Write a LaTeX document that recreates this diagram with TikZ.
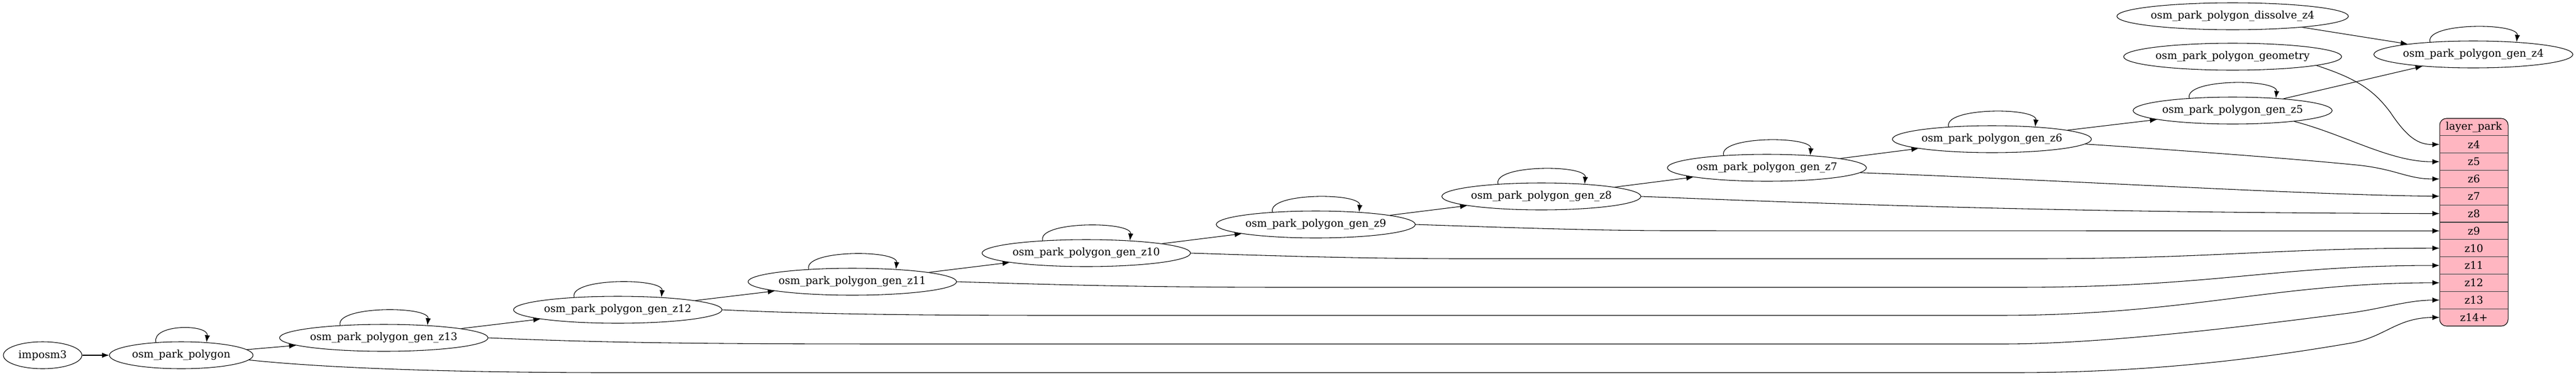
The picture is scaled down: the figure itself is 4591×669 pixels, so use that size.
\documentclass[tikz,border=0pt]{standalone}
\usepackage{fontspec}
\setmainfont{DejaVu Serif}
\usetikzlibrary{arrows.meta,shapes.geometric}
\definecolor{parkpink}{HTML}{FFB6C1}

\begin{document}
\begin{tikzpicture}[x=0.75pt, y=-0.75pt, font=\fontsize{14}{17}\selectfont,
		job/.style={draw, ellipse, line width=0.8pt, inner sep=0pt, minimum height=36pt},
		link/.style={line width=0.8pt, -{Latex[length=9.5pt, width=7pt]}},
		cell/.style={inner sep=0pt, minimum width=91.5pt, minimum height=23pt}]
		\useasboundingbox (0,0) rectangle (4591,669);
		\node[job, minimum width=105pt]   (imp)  at (76,633)   {imposm3};
		\node[job, minimum width=192pt]   (park) at (323,633)  {osm\_park\_polygon};
		\node[job, minimum width=276pt]   (g13)  at (684,602)  {osm\_park\_polygon\_gen\_z13};
		\node[job, minimum width=276pt]   (g12)  at (1101,552) {osm\_park\_polygon\_gen\_z12};
		\node[job, minimum width=276pt]   (g11)  at (1519,502) {osm\_park\_polygon\_gen\_z11};
		\node[job, minimum width=276pt]   (g10)  at (1936,451) {osm\_park\_polygon\_gen\_z10};
		\node[job, minimum width=265.5pt] (g9)   at (2345,400) {osm\_park\_polygon\_gen\_z9};
		\node[job, minimum width=265.5pt] (g8)   at (2747,350) {osm\_park\_polygon\_gen\_z8};
		\node[job, minimum width=265.5pt] (g7)   at (3149,299) {osm\_park\_polygon\_gen\_z7};
		\node[job, minimum width=265.5pt] (g6)   at (3550,248) {osm\_park\_polygon\_gen\_z6};
		\node[job, minimum width=265.5pt] (g5)   at (3979,197) {osm\_park\_polygon\_gen\_z5};
		\node[job, minimum width=265.5pt] (g4)   at (4408,97)  {osm\_park\_polygon\_gen\_z4};
		\node[job, minimum width=307.5pt] (diss) at (3979,29)  {osm\_park\_polygon\_dissolve\_z4};
		\node[job, minimum width=291pt]   (geom) at (3979,101) {osm\_park\_polygon\_geometry};

		\draw[line width=0.8pt, fill=parkpink, rounded corners=9pt] (4348,211) rectangle (4470,581);
		\foreach \i in {1,...,11}
			\draw[black!75, line width=0.8pt] (4348,211+30.83*\i) -- (4470,211+30.83*\i);
		\node[cell] (lp) at (4409,226.4) {layer\_park};
		\foreach \z [count=\i] in {4,...,13}
			\node[cell] (z\z) at (4409,226.4+30.83*\i) {z\z};
		\node[cell] (z14) at (4409,565.6) {z14+};

		\foreach \a/\b in {imp/park, park/g13, g13/g12, g12/g11, g11/g10, g10/g9, g9/g8, g8/g7, g7/g6, g6/g5, g5/g4, diss/g4}
			\draw[link] (\a) -- (\b);
		\foreach \n in {g13,g12,g11,g10,g9,g8,g7,g6,g5,g4}
			\draw[link] (\n.164) .. controls +(-10,-35) and +(4,-35) .. (\n.16);
		\draw[link] (park.153) .. controls +(-8,-33) and +(4,-33) .. (park.27);

		\draw[link] (geom.-6) .. controls (4200,140) and (4230,160) .. (4260,200) .. controls (4290,245) and (4310,258) .. (z4.west);
		\draw[link] (g5.-10) .. controls (4180,240) and (4260,289) .. (z5.west);
		\draw[link] (g6.-3) .. controls (3950,272) and (4120,286) .. (4200,294) .. controls (4270,301) and (4290,319) .. (z6.west);
		\draw[link] (g7.-3) .. controls (3700,322) and (4100,347) .. (z7.west);
		\draw[link] (g8.east) .. controls (3300,365) and (3700,379) .. (z8.west);
		\draw[link] (g9.east) .. controls (2700,406) and (2850,411) .. (2980,411) -- (z9.west);
		\draw[link] (g10.east) .. controls (2300,457) and (2450,461) .. (2612,461) -- (3622,461) .. controls (3950,461) and (4050,442) .. (z10.west);
		\draw[link] (g11.east) .. controls (1900,508) and (2050,512) .. (2300,512) -- (3592,512) .. controls (3950,512) and (4050,473) .. (z11.west);
		\draw[link] (g12.east) .. controls (1450,560) and (1650,562) .. (1892,562) -- (3561,562) .. controls (3900,562) and (4050,504) .. (z12.west);
		\draw[link] (g13.east) .. controls (1100,612) and (1300,613) .. (1640,613) -- (3568,613) .. controls (3750,613) and (4000,582) .. (4186,558) .. controls (4246,550) and (4290,535) .. (z13.west);
		\draw[link] (park.-4) .. controls (600,658) and (850,664) .. (1090,664) -- (3590,664) .. controls (3850,664) and (4050,635) .. (4186,612) .. controls (4250,602) and (4270,566) .. (z14.west);
\end{tikzpicture}
\end{document}
